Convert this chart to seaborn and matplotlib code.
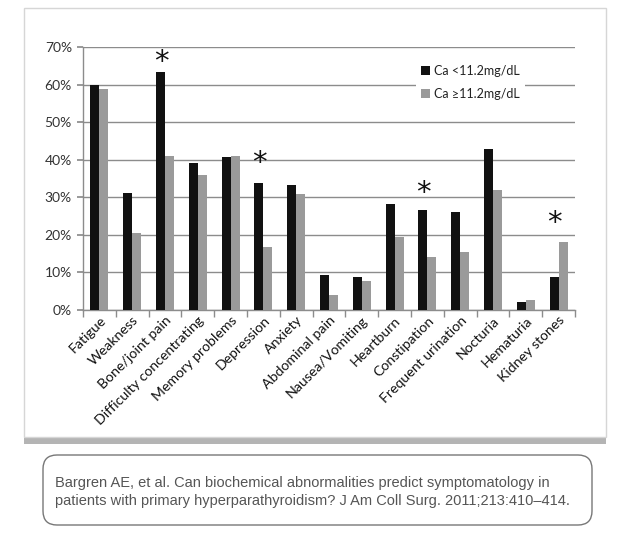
import numpy as np
import pandas as pd
import seaborn as sns
import matplotlib.pyplot as plt
from matplotlib.patches import Rectangle, FancyBboxPatch
from matplotlib.ticker import PercentFormatter, FixedLocator
from matplotlib.transforms import IdentityTransform

symptoms = ["Fatigue", "Weakness", "Bone/joint pain", "Difficulty concentrating",
            "Memory problems", "Depression", "Anxiety", "Abdominal pain",
            "Nausea/Vomiting", "Heartburn", "Constipation", "Frequent urination",
            "Nocturia", "Hematuria", "Kidney stones"]
ca_low = [60.0, 31.2, 63.3, 39.2, 40.7, 33.9, 33.4, 9.3, 8.9, 28.1, 26.6, 26.2, 42.8, 2.0, 8.9]
ca_high = [58.7, 20.6, 41.0, 35.8, 41.0, 16.7, 30.8, 4.0, 7.8, 19.4, 14.2, 15.5, 31.9, 2.7, 18.1]
groups = ["Ca <11.2mg/dL", "Ca \u226511.2mg/dL"]
star_labels = ["Bone/joint pain", "Depression", "Constipation", "Kidney stones"]
star_y = [66.0, 39.1, 31.1, 23.2]

caption = ("Bargren AE, et al. Can biochemical abnormalities predict symptomatology in\n"
           "patients with primary hyperparathyroidism? J Am Coll Surg. 2011;213:410\u2013414.")

df = pd.DataFrame({
    "symptom": symptoms * 2,
    "group": [groups[0]] * len(symptoms) + [groups[1]] * len(symptoms),
    "value": [v / 100 for v in ca_low + ca_high],
})

sns.set_theme(style="white")
plt.rcParams["font.family"] = ["Lato", "DejaVu Sans"]

W, H = 632, 537
fig = plt.figure(figsize=(W / 100, H / 100), dpi=100)
fig.patch.set_facecolor("white")

# card panel behind the chart, with a soft shadow at the bottom
fig.add_artist(Rectangle((24, H - 444), 582, 10, transform=IdentityTransform(),
                         facecolor="#b4b4b4", edgecolor="none", zorder=-2))
fig.add_artist(Rectangle((24, H - 437), 582, 429, transform=IdentityTransform(),
                         facecolor="white", edgecolor="#d6d6d6", lw=1, zorder=-1))

ax = fig.add_axes([83 / W, 1 - 310 / H, 492 / W, 263 / H])
ax.set_facecolor("none")

sns.barplot(data=df, x="symptom", y="value", hue="group", order=symptoms,
            palette=["#111111", "#9a9a9a"], width=0.55, gap=0, saturation=1,
            edgecolor="none", linewidth=0, ax=ax, zorder=3)

ax.set_ylim(0, 0.7)
ax.set_xlim(-0.5, len(symptoms) - 0.5)
ax.yaxis.set_major_locator(FixedLocator(np.arange(0, 0.71, 0.1)))
ax.yaxis.set_major_formatter(PercentFormatter(1.0, decimals=0))
ax.grid(axis="y", color="#8c8c8c", lw=1, zorder=0)
ax.set_axisbelow(True)

for s in ["top", "right"]:
    ax.spines[s].set_visible(False)
for s in ["left", "bottom"]:
    ax.spines[s].set_color("#8c8c8c")
    ax.spines[s].set_linewidth(1)

ax.set_xlabel("")
ax.set_ylabel("")
ax.tick_params(axis="y", left=True, length=4, color="#8c8c8c", labelsize=10,
               labelcolor="#333333", pad=4)
ax.tick_params(axis="x", bottom=False, length=0, labelsize=10.2, labelcolor="#111111", pad=3)
ax.set_xticks(range(len(symptoms)))
ax.set_xticklabels(symptoms, rotation=45, ha="right", rotation_mode="anchor")
ax.set_xticks(np.arange(-0.5, len(symptoms), 1), minor=True)
ax.tick_params(axis="x", which="minor", bottom=True, length=5, color="#8c8c8c", direction="out")

for lab, yv in zip(star_labels, star_y):
    i = symptoms.index(lab)
    ax.text(i - 0.12, yv / 100, "*", ha="center", va="center", fontsize=21,
            color="#111111", family="DejaVu Sans")

leg = ax.legend(loc="upper left", bbox_to_anchor=(0.665, 0.975), frameon=True,
                fontsize=9, handlelength=0.7, handleheight=0.7, handletextpad=0.3,
                labelspacing=0.9, borderpad=0.4, fancybox=False)
leg.get_frame().set_edgecolor("none")
leg.get_frame().set_facecolor("white")
leg.get_frame().set_alpha(1)
for t in leg.get_texts():
    t.set_color("#222222")

# citation box
fig.add_artist(FancyBboxPatch((43, H - 525), 549, 70, transform=IdentityTransform(),
                              boxstyle="round,pad=0,rounding_size=14",
                              facecolor="white", edgecolor="#777777", lw=1))
fig.text(55 / W, 1 - 492 / H, caption, ha="left", va="center", fontsize=10.5,
         color="#555555", family=["Liberation Sans", "DejaVu Sans"], linespacing=1.3)

fig.savefig("out.png", dpi=100)
